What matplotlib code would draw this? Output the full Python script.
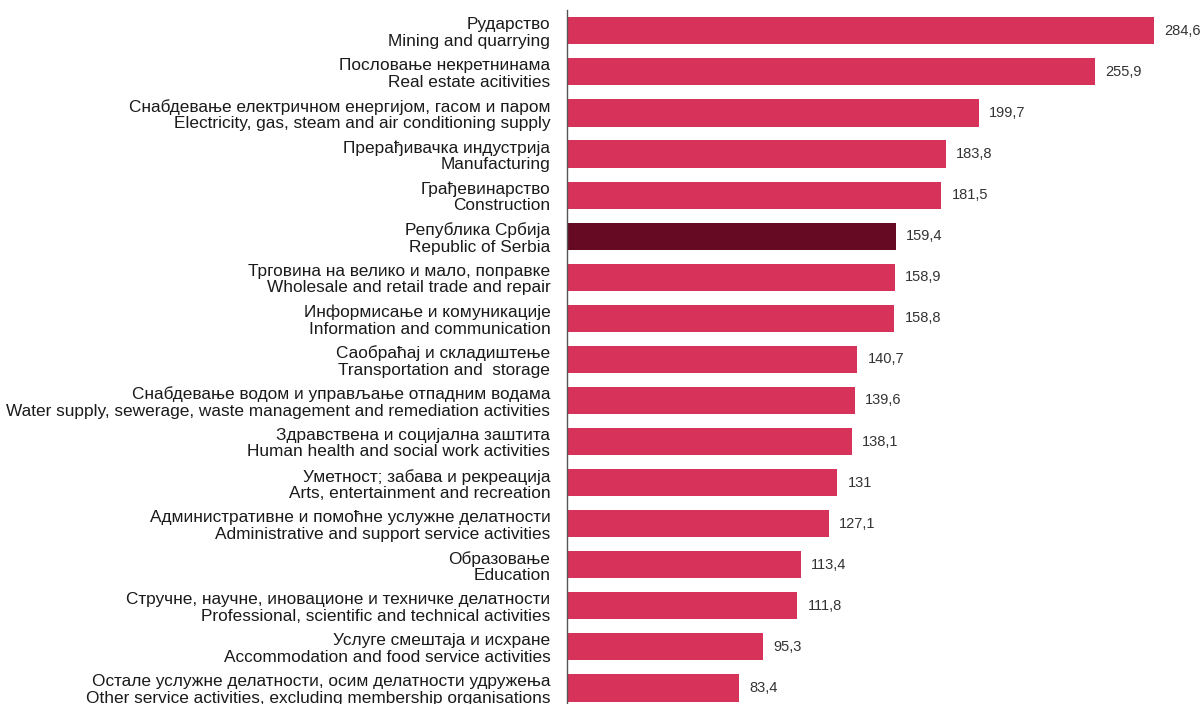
import matplotlib
matplotlib.use("Agg")
import matplotlib.pyplot as plt
from matplotlib import font_manager

# category labels (Serbian / English), top to bottom
labels_sr = [
    "Рударство",
    "Пословање некретнинама",
    "Снабдевање електричном енергијом, гасом и паром",
    "Прерађивачка индустрија",
    "Грађевинарство",
    "Република Србија",
    "Трговина на велико и мало, поправке",
    "Информисање и комуникације",
    "Саобраћај и складиштење",
    "Снабдевање водом и управљање отпадним водама",
    "Здравствена и социјална заштита",
    "Уметност; забава и рекреација",
    "Административне и помоћне услужне делатности",
    "Образовање",
    "Стручне, научне, иновационе и техничке делатности",
    "Услуге смештаја и исхране",
    "Остале услужне делатности, осим делатности удружења",
]
labels_en = [
    "Mining and quarrying",
    "Real estate acitivities",
    "Electricity, gas, steam and air conditioning supply",
    "Manufacturing",
    "Construction",
    "Republic of Serbia",
    "Wholesale and retail trade and repair",
    "Information and communication",
    "Transportation and  storage",
    "Water supply, sewerage, waste management and remediation activities",
    "Human health and social work activities",
    "Arts, entertainment and recreation",
    "Administrative and support service activities",
    "Education",
    "Professional, scientific and technical activities",
    "Accommodation and food service activities",
    "Other service activities, excluding membership organisations",
]
values = [284.6, 255.9, 199.7, 183.8, 181.5, 159.4, 158.9, 158.8, 140.7,
          139.6, 138.1, 131.0, 127.1, 113.4, 111.8, 95.3, 83.4]
highlight = "Republic of Serbia"

available = {f.name for f in font_manager.fontManager.ttflist}
family = [f for f in ["Liberation Sans Narrow", "Liberation Sans", "DejaVu Sans"] if f in available]
plt.rcParams["font.family"] = family

BAR = "#d7325a"
DARK = "#650a22"

fig = plt.figure(figsize=(12.02, 7.04), dpi=100)
ax = fig.add_axes([0.4717, 0.0, 0.5146, 0.986])

ypos = list(range(len(values)))
colors = [DARK if en == highlight else BAR for en in labels_en]
ax.barh(ypos, values, height=0.66, color=colors)

for y, v in zip(ypos, values):
    txt = f"{v:.1f}".replace(".", ",") if v != int(v) else f"{int(v)}"
    ax.text(v + 5, y, txt, va="center", ha="left", fontsize=10.5, color="#333333")

ax.set_yticks(ypos)
ax.set_yticklabels([f"{s}\n{e}" for s, e in zip(labels_sr, labels_en)],
                   fontsize=12.4, color="#1a1a1a", linespacing=1.12)
ax.tick_params(axis="y", length=0, pad=12)
ax.set_xticks([])
ax.set_xlim(0, 300)
ax.set_ylim(16.39, -0.51)
for side in ["top", "right", "bottom"]:
    ax.spines[side].set_visible(False)
ax.spines["left"].set_color("#555555")
ax.spines["left"].set_linewidth(1.0)

fig.savefig("out.png", dpi=100)
